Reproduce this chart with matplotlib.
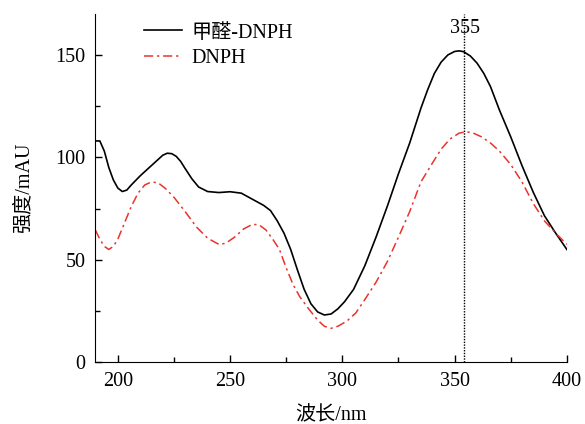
import matplotlib
matplotlib.use("Agg")
import matplotlib.pyplot as plt
from matplotlib.ticker import MultipleLocator

plt.rcParams['font.family'] = ['Liberation Serif', 'Noto Sans CJK SC']
plt.rcParams['font.size'] = 14.5

# ── Data ─────────────────────────────────────────────────────────────
wl_hcho = [190, 192, 194, 196, 198, 200, 202, 204, 206, 210, 215, 220, 222,
           224, 226, 228, 230, 233, 236, 240, 245, 250, 255, 260, 265, 268,
           271, 274, 277, 280, 283, 286, 289, 292, 295, 298, 301, 305, 310,
           315, 320, 325, 330, 335, 338, 341, 344, 347, 350, 352, 354, 357,
           360, 363, 366, 370, 375, 380, 385, 390, 395, 400]
int_hcho = [108, 108, 103, 95, 89, 85, 83.3, 84, 86.5, 91, 96, 101, 102,
            101.8, 100.5, 98, 94.5, 89.5, 85.5, 83.3, 82.8, 83.2, 82.5, 79.5,
            76.5, 74, 69, 63, 55, 45, 35.5, 28.5, 24.5, 23, 23.5, 26, 29.5,
            35.5, 47, 61, 76, 92, 107, 124, 133, 141, 146.5, 150, 151.7, 152,
            151.6, 149.5, 146, 141, 134.5, 123, 110, 96, 83, 71.5, 63, 55]

wl_dnph = [190, 192, 194, 196, 198, 200, 203, 206, 209, 212, 215, 218, 221,
           225, 230, 235, 240, 245, 248, 252, 256, 260, 263, 266, 269, 272,
           275, 278, 281, 285, 289, 292, 295, 298, 302, 306, 310, 315, 320,
           325, 330, 335, 340, 344, 348, 352, 355, 358, 362, 366, 370, 375,
           380, 385, 390, 395, 400]
int_dnph = [64.5, 60, 56.5, 55, 56.5, 60, 68, 76, 82.5, 86.5, 88, 87.5, 85,
            80.5, 73.5, 66, 60.5, 57.5, 58, 61, 65, 67.3, 67, 64.5, 60, 55,
            46, 38, 32, 26, 20.5, 17.5, 16.5, 17.5, 20, 24, 30.5, 39, 49, 61,
            73.5, 88, 97, 104, 109, 111.8, 112.5, 112, 110, 107, 103, 96.5,
            88, 77.5, 69, 63, 57.5]

peak_wl = 354
peak_label = "355"

# ── Plot ─────────────────────────────────────────────────────────────
fig = plt.figure(figsize=(5.85, 4.24), dpi=100)
ax = fig.add_axes([0.163, 0.146, 0.806, 0.821])

ax.plot(wl_hcho, int_hcho, color="black", linewidth=1.2, label="甲醛-DNPH")
ax.plot(wl_dnph, int_dnph, color="#e8342c", linewidth=1.1,
        dashes=(6, 2.5, 1.5, 2.5), label="DNPH")
ax.axvline(peak_wl, color="black", linestyle=(0, (1, 1)), linewidth=1.0)
ax.text(peak_wl + 0.5, 163, peak_label, ha="center", va="center")

ax.set_xlim(190, 400)
ax.set_ylim(0, 170)
ax.xaxis.set_major_locator(MultipleLocator(50))
ax.xaxis.set_minor_locator(MultipleLocator(25))
ax.yaxis.set_major_locator(MultipleLocator(50))
ax.yaxis.set_minor_locator(MultipleLocator(25))
ax.tick_params(which="both", direction="in", top=False, right=False,
               width=1.0, labelsize=14.5, pad=7)
ax.tick_params(which="major", length=5)
ax.tick_params(which="minor", length=3.5)
ax.spines["top"].set_visible(False)
ax.spines["right"].set_visible(False)

ax.set_xlabel("波长/nm", labelpad=11)
ax.set_ylabel("强度/mAU", labelpad=16)

ax.legend(loc="upper left", bbox_to_anchor=(0.065, 1.025), frameon=False,
          handlelength=1.9, handletextpad=0.45, labelspacing=0.3)

plt.savefig("out.png", dpi=100)
